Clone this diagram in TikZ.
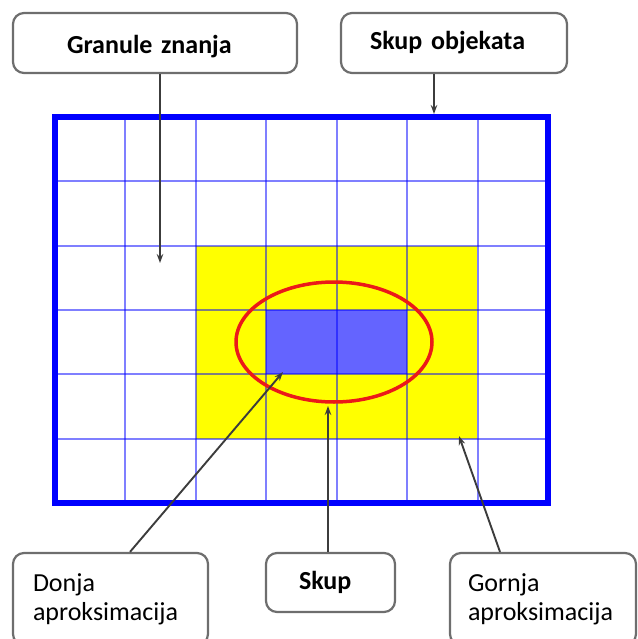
\documentclass[tikz,border=0pt]{standalone}
\usepackage{fontspec}
\setmainfont{Carlito}
\usetikzlibrary{positioning,arrows.meta}
\definecolor{gridblue}{RGB}{0,0,255}
\definecolor{lowerblue}{RGB}{100,100,255}
\definecolor{upperyellow}{RGB}{255,255,0}
\definecolor{setred}{RGB}{235,25,25}
\definecolor{boxgray}{RGB}{110,110,110}
\definecolor{linegray}{RGB}{60,60,60}

\begin{document}
\begin{tikzpicture}[
    x=1pt, y=-1pt,
    >={Stealth[length=9pt,width=6.5pt]},
    callout/.style={draw=boxgray, line width=2.2pt, rounded corners=11pt, fill=white,
        inner ysep=0pt, align=left, font=\fontsize{26}{29}\selectfont},
    conn/.style={->, draw=linegray, fill=linegray, line width=1.9pt}
]
\useasboundingbox (0,0) rectangle (637,639);

% Grid: 7 columns x 6 rows, cell 70.43 x 64.33
% Upper approximation (yellow cells) and lower approximation (blue cells)
\fill[upperyellow] (195.9,245.7) rectangle (477.3,438.7);
\fill[lowerblue] (266.3,310) rectangle (407.1,374.3);

% Draw grid
\foreach \i in {1,...,6} {
    \draw[gridblue, opacity=0.5, line width=1.9pt] (55+\i*70.43,117) -- (55+\i*70.43,503);
}
\foreach \j in {1,...,5} {
    \draw[gridblue, opacity=0.5, line width=1.9pt] (55,117+\j*64.33) -- (548,117+\j*64.33);
}

% Universe border
\draw[gridblue, line width=6pt] (55,117) rectangle (548,503);

% The set
\draw[setred, line width=3.5pt] (334,342) ellipse [x radius=98pt, y radius=60pt];

% Callout boxes
\node[callout, minimum width=284pt, minimum height=60pt, text width=176pt, inner xsep=54pt,
    text height=27.5pt, text depth=5.5pt,
    font=\fontsize{26}{29}\selectfont\bfseries] (granule) at (155,43) {Granule znanja};
\node[callout, minimum width=226pt, minimum height=60pt, text width=168pt, inner xsep=29pt,
    font=\fontsize{26}{29}\selectfont\bfseries] (objekti) at (454,43) {Skup objekata};
\node[callout, minimum width=195pt, minimum height=92pt, text width=155pt, inner xsep=20pt]
    (donja) at (110.5,599) {Donja\\aproksimacija};
\node[callout, minimum width=129pt, minimum height=59pt, text width=63pt, inner xsep=33pt,
    font=\fontsize{26}{29}\selectfont\bfseries] (skup) at (330.5,582.5) {Skup};
\node[callout, minimum width=186pt, minimum height=92pt, text width=150pt, inner xsep=18pt]
    (gornja) at (543,599) {Gornja\\aproksimacija};

% Arrow tips
\coordinate (granuletip) at (160,263);
\coordinate (objektitip) at (434,114);
\coordinate (donjatip) at (283,372);
\coordinate (skuptip) at (328,406);
\coordinate (gornjatip) at (459,436);

% Connectors
\draw[conn] (granule.south -| granuletip) -- (granuletip);
\draw[conn] (objekti.south -| objektitip) -- (objektitip);
\draw[conn] ([xshift=19.5pt]donja.north) -- (donjatip);
\draw[conn] (skup.north -| skuptip) -- (skuptip);
\draw[conn] ([xshift=-43pt]gornja.north) -- (gornjatip);

\end{tikzpicture}
\end{document}
